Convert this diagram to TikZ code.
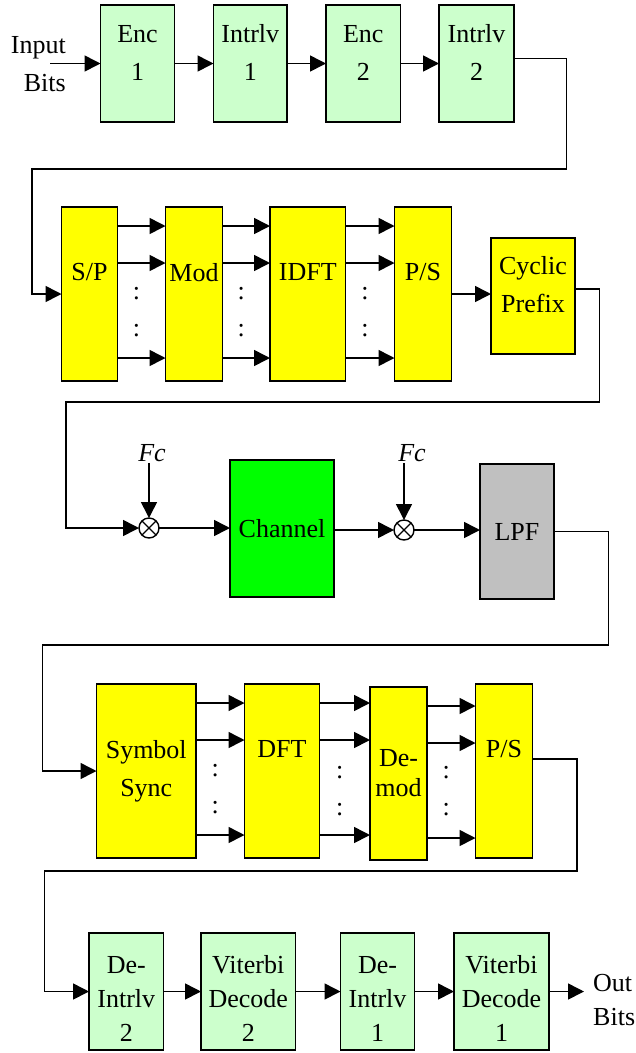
\documentclass[tikz,border=0pt]{standalone}
\usepackage{fontspec}
\setmainfont{Liberation Serif}
\usetikzlibrary{calc,arrows.meta,positioning}
\definecolor{codeGreen}{RGB}{204,255,204}
\definecolor{ofdmYellow}{RGB}{255,255,0}
\definecolor{chanGreen}{RGB}{0,255,0}
\definecolor{lpfGray}{RGB}{192,192,192}
\tikzset{
  blk/.style={draw=black,line width=1.4pt,fill=#1,anchor=north west,inner sep=1pt,outer sep=0pt,align=center,font=\fontsize{26}{38}\selectfont},
  lift/.style={text depth=#1},
  conn/.style={line width=1.6pt,-{Triangle[length=16pt,width=16pt]}},
  wire/.style={line width=1.2pt},
  mixer/.style={circle,draw=black,line width=1.4pt,fill=white,minimum size=20pt,inner sep=0pt,outer sep=0pt},
  txt/.style={font=\fontsize{26}{38}\selectfont,inner sep=1pt}
}
\begin{document}
\begin{tikzpicture}[x=1pt,y=-1pt]
\useasboundingbox (0,0) rectangle (636,1053);
\node[blk=codeGreen,minimum width=74,minimum height=117,lift=22pt] (enc1) at (100.5,5) {Enc\\1};
\node[blk=codeGreen,minimum width=73.5,minimum height=117,lift=22pt] (intl1) at (213.5,5) {Intrlv\\1};
\node[blk=codeGreen,minimum width=74.5,minimum height=117,lift=22pt] (enc2) at (326,5) {Enc\\2};
\node[blk=codeGreen,minimum width=75,minimum height=117,lift=22pt] (intl2) at (439,5) {Intrlv\\2};
\node[txt,align=right,anchor=east] (inbits) at (67,64) {Input\\Bits};
\coordinate (src) at (50,63.5);

\node[blk=ofdmYellow,minimum width=56,minimum height=174,lift=44pt] (sp) at (61.5,207) {S/P};
\node[blk=ofdmYellow,minimum width=57,minimum height=174,lift=44pt] (mod) at (165.5,207) {Mod};
\node[blk=ofdmYellow,minimum width=75.5,minimum height=174,lift=44pt] (idft) at (270,207) {IDFT};
\node[blk=ofdmYellow,minimum width=57,minimum height=174,lift=44pt] (ps) at (394.5,207) {P/S};
\node[blk=ofdmYellow,minimum width=84,minimum height=116,lift=24pt] (cp) at (491,238) {Cyclic\\Prefix};

\node[mixer] (mixa) at (149,528) {};
\node[blk=chanGreen,minimum width=104,minimum height=137] (chan) at (230,460) {Channel};
\node[mixer] (mixb) at (404,530) {};
\node[blk=lpfGray,minimum width=74,minimum height=135] (lpf) at (480,464) {LPF};
\node[txt,font=\fontsize{26}{38}\selectfont\itshape] (fca) at (152,453) {Fc};
\node[txt,font=\fontsize{26}{38}\selectfont\itshape] (fcb) at (412,453) {Fc};

\node[blk=ofdmYellow,minimum width=99.5,minimum height=174] (sync) at (96.5,684) {Symbol\\Sync};
\node[blk=ofdmYellow,minimum width=75,minimum height=174,lift=44pt] (dft) at (244.5,684) {DFT};
\node[blk=ofdmYellow,minimum width=57,minimum height=173,font=\fontsize{26}{30}\selectfont] (demod) at (370,687) {De-\\mod};
\node[blk=ofdmYellow,minimum width=57,minimum height=174,lift=44pt] (pss) at (475.5,684) {P/S};

\node[blk=codeGreen,minimum width=74.5,minimum height=117,font=\fontsize{26}{34}\selectfont,text height=100pt] (dintb) at (89,933) {De-\\Intrlv\\2};
\node[blk=codeGreen,minimum width=94.5,minimum height=117,font=\fontsize{26}{34}\selectfont,text height=100pt] (vitb) at (201,933) {Viterbi\\Decode\\2};
\node[blk=codeGreen,minimum width=74,minimum height=117,font=\fontsize{26}{34}\selectfont,text height=100pt] (dinta) at (340.5,933) {De-\\Intrlv\\1};
\node[blk=codeGreen,minimum width=95,minimum height=117,font=\fontsize{26}{34}\selectfont,text height=100pt] (vita) at (454,933) {Viterbi\\Decode\\1};
\node[txt,font=\fontsize{26}{34}\selectfont,align=left,anchor=west] (outbits) at (592,1000) {Out\\Bits};
\coordinate (sink) at (584,991.5);

\draw[conn] (src) -- (enc1.west);
\draw[conn] (enc1.east) -- (intl1.west);
\draw[conn] (intl1.east) -- (enc2.west);
\draw[conn] (enc2.east) -- (intl2.west);
\draw[conn] ([yshift=5]intl2.east) -- (566.5,58.5) |- (32,169) |- (sp.west);

\foreach \a/\b in {sp/mod,mod/idft,idft/ps,sync/dft,dft/demod,demod/pss}{
  \foreach \d in {19,56,151}
    \draw[conn] ([yshift=-\d]\a.north east) -- ([yshift=-\d]\a.north east -| \b.west);
  \node[txt] (dot-\a-1) at ([xshift=-5,yshift=-87]$(\a.north east)!0.5!(\b.north west)$) {:};
  \node[txt] (dot-\a-2) at ([xshift=-5,yshift=-124]$(\a.north east)!0.5!(\b.north west)$) {:};
}
\draw[conn] (ps.east) -- (ps.east -| cp.west);
\draw[conn] ([yshift=7]cp.east) -- (599.5,289) |- (66,402) |- (mixa.west);

\draw[wire] (mixa.45) -- (mixa.225) (mixa.135) -- (mixa.315);
\draw[wire] (mixb.45) -- (mixb.225) (mixb.135) -- (mixb.315);
\draw[conn] (fca.south -| mixa) -- (mixa.north);
\draw[conn] (fcb.south -| mixb) -- (mixb.north);
\draw[conn] (mixa.east) -- (mixa.east -| chan.west);
\draw[conn] (chan.east |- mixb) -- (mixb.west);
\draw[conn] (mixb.east) -- (mixb.east -| lpf.west);
\draw[conn] (lpf.east) -- (608.5,531.5) |- (42.5,645) |- (sync.west);

\draw[conn] ([yshift=12]pss.east) -- (577,759) |- (44.5,871) |- (dintb.west);
\draw[conn] (dintb.east) -- (vitb.west);
\draw[conn] (vitb.east) -- (dinta.west);
\draw[conn] (dinta.east) -- (vita.west);
\draw[conn] (vita.east) -- (sink);
\end{tikzpicture}
\end{document}
